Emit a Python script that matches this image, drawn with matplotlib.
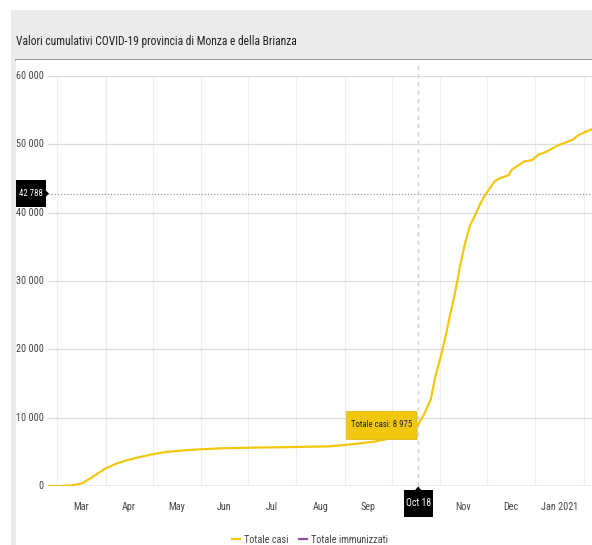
import matplotlib
matplotlib.use("Agg")
import matplotlib.pyplot as plt
import matplotlib.dates as mdates
from matplotlib.patches import Rectangle, Polygon
from matplotlib.lines import Line2D
from matplotlib.font_manager import fontManager
import pandas as pd

# cumulative cases, Monza e della Brianza
case_dates = [
    "2020-02-24", "2020-03-01", "2020-03-05", "2020-03-10", "2020-03-14",
    "2020-03-17", "2020-03-19", "2020-03-22", "2020-03-26", "2020-04-01",
    "2020-04-08", "2020-04-15", "2020-04-22", "2020-05-01", "2020-05-10",
    "2020-05-20", "2020-06-01", "2020-06-15", "2020-07-01", "2020-07-21",
    "2020-08-05", "2020-08-22", "2020-09-01", "2020-09-11", "2020-09-20",
    "2020-10-01", "2020-10-08", "2020-10-13", "2020-10-18", "2020-10-22",
    "2020-10-26", "2020-10-29", "2020-11-02", "2020-11-05", "2020-11-07",
    "2020-11-10", "2020-11-12", "2020-11-14", "2020-11-17", "2020-11-20",
    "2020-11-24", "2020-11-27", "2020-11-30", "2020-12-03", "2020-12-06",
    "2020-12-10", "2020-12-15", "2020-12-17", "2020-12-21", "2020-12-25",
    "2020-12-30", "2021-01-03", "2021-01-08", "2021-01-12", "2021-01-16",
    "2021-01-21", "2021-01-25", "2021-01-29", "2021-02-03", "2021-02-06",
]
case_values = [
    0, 5, 20, 80, 250,
    400, 700, 1100, 1700, 2600,
    3300, 3800, 4200, 4650, 5000,
    5200, 5380, 5520, 5600, 5670,
    5730, 5800, 6000, 6250, 6500,
    7000, 7500, 8000, 8975, 10600,
    12600, 16000, 19400, 22400, 24600,
    27600, 29900, 32400, 35500, 38000,
    39900, 41400, 42600, 43600, 44600,
    45100, 45500, 46300, 46900, 47500,
    47700, 48500, 48900, 49400, 49900,
    50300, 50700, 51400, 51900, 52200,
]

y_ticks = [0, 10000, 20000, 30000, 40000, 50000, 60000]
month_starts = pd.date_range("2020-03-01", "2021-02-01", freq="MS")
month_labels = ["Mar", "Apr", "May", "Jun", "Jul", "Aug", "Sep", "", "Nov", "Dec", "Jan 2021"]
marker_date = "2020-10-18"
marker_value = 8975
ref_value = 42788

YELLOW = "#F2C80F"
PURPLE = "#8C4F9E"

# narrowest family that is actually installed
installed = {f.name for f in fontManager.ttflist}
NARROW = "DejaVu Sans"
for cand in ["Liberation Sans Narrow", "Roboto Condensed", "Open Sans Condensed",
             "DejaVu Sans Condensed", "Liberation Sans"]:
    if cand in installed:
        NARROW = cand
        break
plt.rcParams["font.family"] = [NARROW, "DejaVu Sans"]
plt.rcParams["font.stretch"] = "condensed"


def num(v):
    return f"{v:,}".replace(",", " ")


W, H = 592, 545
fig = plt.figure(figsize=(W / 100, H / 100), dpi=100, facecolor="white")


def fx(px):
    return px / W


def fy(py):
    return 1 - py / H


def pixbox(x0, y0, x1, y1, **kw):
    # rectangle given in picture pixels (top-left origin)
    return Rectangle((fx(x0), fy(y1)), fx(x1) - fx(x0), fy(y0) - fy(y1),
                     transform=fig.transFigure, **kw)


def pixtri(pts, **kw):
    return Polygon([[fx(a), fy(b)] for a, b in pts], closed=True,
                   transform=fig.transFigure, **kw)


# report background and white card
fig.patches.append(pixbox(11, 10, W, H, facecolor="#ebebeb", edgecolor="none", zorder=-2))
fig.patches.append(pixbox(16, 60, W, H, facecolor="white", edgecolor="none", zorder=-1))
fig.add_artist(Line2D([fx(16), 1], [fy(60), fy(60)], transform=fig.transFigure,
                      color="#8a8a8a", lw=1.2, zorder=-1))

fig.text(fx(16), fy(41), "Valori cumulativi COVID-19 provincia di Monza e della Brianza",
         ha="left", va="center", fontsize=8.3, color="#222222")

ax = fig.add_axes([fx(48), fy(486), fx(592) - fx(48), fy(76) - fy(486)])
ax.set_facecolor("white")

dates = pd.to_datetime(case_dates)
x0 = mdates.date2num(pd.Timestamp("2020-02-24"))
x1 = mdates.date2num(pd.Timestamp("2021-02-06")) + 0.3
ax.set_xlim(x0, x1)
ax.set_ylim(0, 60000)

for d in month_starts:
    ax.axvline(mdates.date2num(d), color="#eeeeee", lw=0.9, zorder=1)
for v in y_ticks[1:]:
    ax.axhline(v, color="#dcdcdc", lw=0.9, zorder=1)
ax.axhline(0, color="#a8a8a8", lw=1.0, zorder=2)

ax.plot(mdates.date2num(dates), case_values, color=YELLOW, lw=1.6,
        solid_joinstyle="round", zorder=4)

for s in ax.spines.values():
    s.set_visible(False)
ax.set_xticks([])
ax.set_yticks([])

# y labels
for v in y_ticks:
    ax.text(-0.008, v, num(v), transform=ax.get_yaxis_transform(),
            ha="right", va="center", fontsize=7.3, color="#444444")

# month labels in the middle of each month
tr = ax.get_xaxis_transform()
for d, lab in zip(month_starts, month_labels):
    if not lab:
        continue
    mid = mdates.date2num(d) + d.days_in_month / 2
    ax.text(mid, -0.05, lab, transform=tr, ha="center", va="center",
            fontsize=7.3, color="#444444")

# crosshair at the selected date
mx = mdates.date2num(pd.Timestamp(marker_date))
ax.plot([mx, mx], [0, 62000], color="#cfcfcf", lw=1.0, ls=(0, (3, 3)),
        clip_on=False, zorder=3)
ax.axhline(ref_value, color="#9a9a9a", lw=0.9, ls=(0, (1, 1.5)), zorder=3)

# flag pixel positions from the axis transforms
px_x = ax.transData.transform((mx, 0))[0]
px_y = H - ax.transData.transform((0, ref_value))[1]
tip_y = H - ax.transData.transform((0, marker_value))[1]

# date flag under the axis
fig.patches.append(pixbox(px_x - 14.5, 490, px_x + 14.5, 517, facecolor="black",
                          edgecolor="none", zorder=5))
fig.patches.append(pixtri([(px_x - 3.5, 490.5), (px_x + 3.5, 490.5), (px_x, 486.5)],
                          facecolor="black", edgecolor="none", zorder=5))
fig.text(fx(px_x), fy(503.5), "Oct 18", ha="center", va="center",
         fontsize=7.0, color="white", zorder=6)

# value flag on the y axis
fig.patches.append(pixbox(16, px_y - 13.5, 45.5, px_y + 13.5, facecolor="black",
                          edgecolor="none", zorder=5))
fig.patches.append(pixtri([(45, px_y - 4), (45, px_y + 4), (49, px_y)],
                          facecolor="black", edgecolor="none", zorder=5))
fig.text(fx(30.8), fy(px_y), num(ref_value), ha="center", va="center",
         fontsize=6.3, color="white", zorder=6)

# tooltip next to the hovered point
tx1 = px_x - 2
tx0 = tx1 - 70
fig.patches.append(pixbox(tx0 + 1.5, tip_y - 12.5, tx1 + 1.5, tip_y + 15.5,
                          facecolor="#d8d8d8", edgecolor="none", zorder=5))
fig.patches.append(pixbox(tx0, tip_y - 14, tx1, tip_y + 14, facecolor=YELLOW,
                          edgecolor="#e0b90c", lw=0.5, zorder=6))
fig.patches.append(pixtri([(tx1, tip_y - 4), (tx1, tip_y + 4), (tx1 + 3, tip_y)],
                          facecolor=YELLOW, edgecolor="none", zorder=6))
fig.text(fx((tx0 + tx1) / 2), fy(tip_y), f"Totale casi: {num(marker_value)}",
         ha="center", va="center", fontsize=6.3, color="#222222", zorder=7)

# legend
handles = [Line2D([], [], color=YELLOW, lw=1.6), Line2D([], [], color=PURPLE, lw=1.6)]
fig.legend(handles, ["Totale casi", "Totale immunizzati"], loc="center",
           bbox_to_anchor=(fx(310), fy(540)), ncol=2, frameon=False, fontsize=7.3,
           handlelength=0.8, handletextpad=0.4, columnspacing=1.0,
           labelcolor="#444444", borderpad=0)

fig.savefig("out.png", dpi=100, facecolor="white")
